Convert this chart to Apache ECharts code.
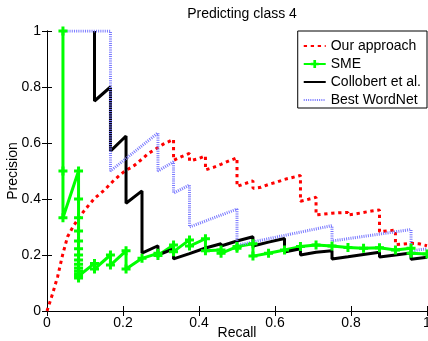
<!DOCTYPE html>
<html>
<head>
<meta charset="utf-8">
<script src="https://cdn.jsdelivr.net/npm/echarts@6/dist/echarts.min.js"></script>
<style>
  html, body { margin: 0; padding: 0; background: #fff; }
  #chart { width: 428px; height: 341px; }
</style>
</head>
<body>
<div id="chart"></div>
<script>
// ---- Data (recall, precision) ----
var titleText = 'Predicting class 4';
var seriesNames = ['Our approach', 'SME', 'Collobert et al.', 'Best WordNet'];
var xTicks = [0, 0.2, 0.4, 0.6, 0.8, 1];
var yTicks = [0, 0.2, 0.4, 0.6, 0.8, 1];

var ourApproach = [
  [0, 0], [0.015, 0.063], [0.028, 0.123], [0.041, 0.2], [0.054, 0.265], [0.068, 0.3],
  [0.089, 0.343], [0.107, 0.373], [0.125, 0.402], [0.151, 0.432], [0.177, 0.468],
  [0.203, 0.498], [0.23, 0.52], [0.252, 0.545], [0.267, 0.563], [0.289, 0.581],
  [0.306, 0.596], [0.333, 0.613],
  [0.333, 0.538], [0.354, 0.551], [0.375, 0.563],
  [0.375, 0.536], [0.396, 0.543], [0.417, 0.554],
  [0.417, 0.504], [0.438, 0.513], [0.458, 0.524], [0.479, 0.536], [0.5, 0.547],
  [0.5, 0.445], [0.521, 0.455], [0.542, 0.465],
  [0.542, 0.438], [0.563, 0.442], [0.583, 0.452], [0.604, 0.46], [0.625, 0.47], [0.646, 0.477], [0.667, 0.484],
  [0.667, 0.392], [0.688, 0.399], [0.708, 0.406],
  [0.708, 0.343], [0.729, 0.346], [0.75, 0.349], [0.771, 0.351], [0.792, 0.352],
  [0.792, 0.343], [0.813, 0.347], [0.833, 0.352], [0.854, 0.357], [0.875, 0.361],
  [0.875, 0.283], [0.896, 0.286], [0.917, 0.289],
  [0.917, 0.237], [0.938, 0.239], [0.958, 0.242], [0.979, 0.24], [1.0, 0.233]
];

var sme = [
  [0.042, 1], [0.042, 0.5], [0.042, 0.333], [0.083, 0.5],
  [0.083, 0.4], [0.083, 0.333], [0.083, 0.286], [0.083, 0.25], [0.083, 0.222],
  [0.083, 0.2], [0.083, 0.182], [0.083, 0.167], [0.083, 0.154], [0.083, 0.143],
  [0.083, 0.133], [0.083, 0.125], [0.083, 0.118],
  [0.125, 0.17], [0.125, 0.15], [0.167, 0.2], [0.167, 0.164],
  [0.208, 0.215], [0.208, 0.15], [0.25, 0.188], [0.292, 0.206], [0.292, 0.198],
  [0.333, 0.236], [0.333, 0.212], [0.375, 0.254], [0.375, 0.232],
  [0.417, 0.258], [0.417, 0.215], [0.458, 0.218], [0.458, 0.206],
  [0.5, 0.23], [0.5, 0.224], [0.542, 0.24], [0.542, 0.196],
  [0.583, 0.206], [0.625, 0.218], [0.667, 0.23], [0.708, 0.236], [0.75, 0.232],
  [0.792, 0.227], [0.833, 0.224], [0.875, 0.226], [0.917, 0.218], [0.958, 0.224],
  [0.958, 0.206], [1.0, 0.204]
];

var collobert = [
  [0.125, 1], [0.125, 0.75], [0.167, 0.8], [0.167, 0.571],
  [0.208, 0.625], [0.208, 0.385], [0.25, 0.429], [0.25, 0.207], [0.292, 0.233],
  [0.292, 0.2], [0.333, 0.222], [0.333, 0.186], [0.375, 0.205], [0.375, 0.2],
  [0.417, 0.225], [0.417, 0.218], [0.458, 0.24], [0.458, 0.232], [0.5, 0.25],
  [0.542, 0.265], [0.542, 0.232], [0.583, 0.246], [0.625, 0.259], [0.625, 0.211],
  [0.667, 0.222], [0.667, 0.2], [0.708, 0.21], [0.75, 0.215], [0.75, 0.186],
  [0.792, 0.194], [0.833, 0.202], [0.875, 0.21], [0.875, 0.193], [0.917, 0.2],
  [0.958, 0.207], [0.958, 0.185], [1.0, 0.192]
];

var bestWordNet = [
  [0.042, 1], [0.083, 1], [0.125, 1], [0.167, 1], [0.167, 0.5],
  [0.292, 0.636], [0.292, 0.5], [0.333, 0.533], [0.333, 0.421],
  [0.375, 0.45], [0.375, 0.3], [0.5, 0.364], [0.5, 0.235],
  [0.75, 0.305], [0.75, 0.25], [0.958, 0.291], [0.958, 0.215], [1.0, 0.222]
];

// ---- Chart ----
var FONT = '"Liberation Sans", Arial, Helvetica, sans-serif';
var plus = 'path://M3,0H6V3H9V6H6V9H3V6H0V3H3Z';
var chart = echarts.init(document.getElementById('chart'), null, { renderer: 'canvas' });

var axisCommon = {
  type: 'value', min: 0, max: 1, interval: 0.2,
  axisLine: { show: true, lineStyle: { color: '#000', width: 1 } },
  axisTick: { show: true, inside: true, length: 5, lineStyle: { color: '#000' } },
  splitLine: { show: false }
};

var hiddenSym = { opacity: 0 };

var option = {
  animation: false,
  backgroundColor: '#fff',
  title: {
    text: titleText, left: 237, top: 2, textAlign: 'center',
    textStyle: { fontFamily: FONT, fontSize: 14, fontWeight: 'normal', color: '#000' }
  },
  legend: {
    data: [
      { name: seriesNames[0], itemStyle: hiddenSym },
      { name: seriesNames[1] },
      { name: seriesNames[2], itemStyle: hiddenSym },
      { name: seriesNames[3], itemStyle: hiddenSym }
    ],
    orient: 'vertical', right: 1, top: 31,
    backgroundColor: '#fff', borderColor: '#000', borderWidth: 1, borderRadius: 0,
    padding: [8, 6, 1, 5], itemGap: 4, itemWidth: 22, itemHeight: 10,
    textStyle: { fontFamily: FONT, fontSize: 14, color: '#000' },
    selectedMode: false
  },
  grid: { left: 47, right: 1, top: 31, bottom: 30, containLabel: false, outerBoundsMode: 'none' },
  xAxis: [
    Object.assign({}, axisCommon, {
      position: 'bottom', name: 'Recall', nameLocation: 'middle', nameGap: 15, nameMoveOverlap: false,
      nameTextStyle: { fontFamily: FONT, fontSize: 14, color: '#000', verticalAlign: 'top' },
      axisLabel: { show: true, margin: 5, fontFamily: FONT, fontSize: 14, color: '#000' }
    }),
    Object.assign({}, axisCommon, { position: 'top', axisLabel: { show: false } })
  ],
  yAxis: [
    Object.assign({}, axisCommon, {
      position: 'left', name: 'Precision', nameLocation: 'middle', nameGap: 27, nameMoveOverlap: false,
      nameTextStyle: { fontFamily: FONT, fontSize: 14, color: '#000', verticalAlign: 'bottom' },
      axisLabel: { show: true, margin: 6, fontFamily: FONT, fontSize: 14, color: '#000' }
    }),
    Object.assign({}, axisCommon, { position: 'right', axisLabel: { show: false } })
  ],
  series: [
    {
      name: seriesNames[0], type: 'line', data: ourApproach, showSymbol: false, symbol: 'none',
      lineStyle: { color: '#ff0000', width: 3, type: [3.3, 3.7], cap: 'butt' },
      itemStyle: { color: '#ff0000' }, emphasis: { disabled: true }
    },
    {
      name: seriesNames[1], type: 'line', data: sme, showAllSymbol: true,
      symbol: plus, symbolSize: 9, clip: false,
      lineStyle: { color: '#00ff00', width: 3 },
      itemStyle: { color: '#00ff00' }, emphasis: { disabled: true }
    },
    {
      name: seriesNames[2], type: 'line', data: collobert, showSymbol: false, symbol: 'none',
      lineStyle: { color: '#000000', width: 3 },
      itemStyle: { color: '#000000' }, emphasis: { disabled: true }
    },
    {
      name: seriesNames[3], type: 'line', data: bestWordNet, showSymbol: false, symbol: 'none',
      lineStyle: { color: '#7878ff', width: 3, type: [1, 1.2], cap: 'butt' },
      itemStyle: { color: '#7878ff' }, emphasis: { disabled: true }
    }
  ]
};
chart.setOption(option);
</script>
</body>
</html>
